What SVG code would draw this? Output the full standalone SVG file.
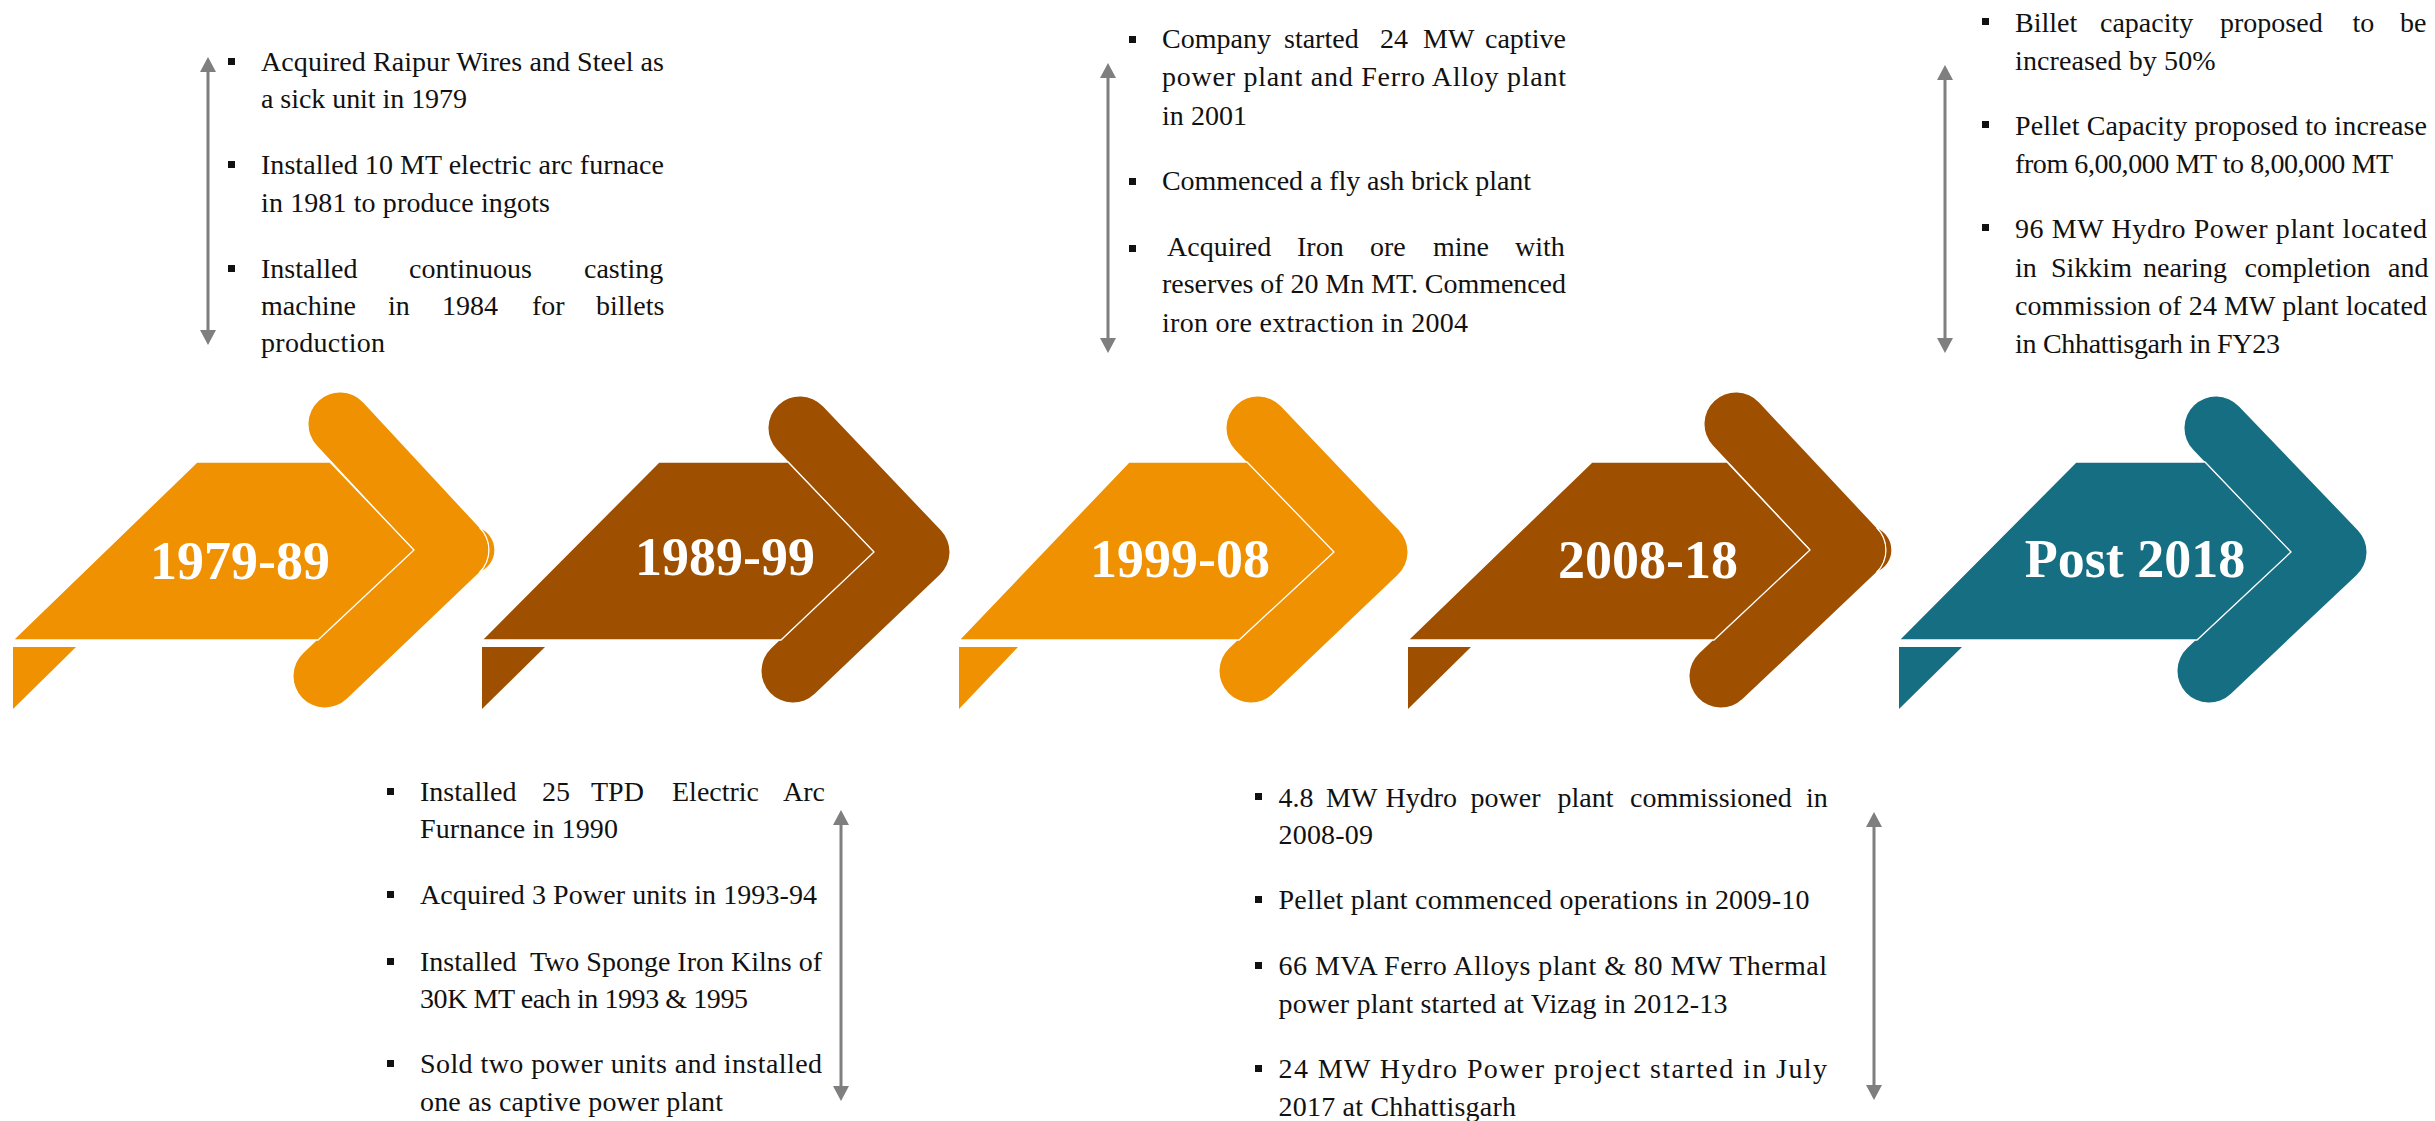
<svg xmlns="http://www.w3.org/2000/svg" width="2435" height="1121" viewBox="0 0 2435 1121">
<style>
.t{font-family:"Liberation Serif","Times New Roman",serif;font-size:28px;fill:#111}
.lbl{font-family:"Liberation Serif","Times New Roman",serif;font-weight:bold;font-size:54px;fill:#fff;text-anchor:middle}
.chev{fill:none;stroke-width:63;stroke-linecap:round;stroke-linejoin:round}
.body{stroke:#fff;stroke-width:1.3}
.cres{stroke:#fff;stroke-width:1.2}
.or .chev{stroke:#EF9100}.or .fill{fill:#EF9100}
.br .chev{stroke:#9E5000}.br .fill{fill:#9E5000}
.te .chev{stroke:#166E82}.te .fill{fill:#166E82}
.bul{fill:#111}
.conn line{stroke:#7f7f7f;stroke-width:3}
</style>
<defs>
<marker id="ah" markerUnits="userSpaceOnUse" markerWidth="16" markerHeight="16" viewBox="0 0 16 16" refX="7" refY="8" orient="auto-start-reverse">
<path d="M0,0 L15,8 L0,16 z" fill="#7f7f7f"/>
</marker>
</defs>

<g id="era-1979-89" class="or">
<path class="chev" d="M340,424 L457,550 L325,676"/>
<path class="fill cres" d="M479.5,527.5 A31.5,31.5 0 0 1 479.5,572.5 A24.1,24.1 0 0 0 479.5,527.5 z"/>
<polygon class="fill body" points="197,462 330,462 414,550 318,640 13,640"/>
<polygon class="fill" points="13,647 76,647 13,709"/>
<text class="lbl" x="240" y="579">1979-89</text>
</g>

<g id="era-1989-99" class="br">
<path class="chev" d="M800,428 L918,552 L793,671"/>
<polygon class="fill body" points="659,462 788,462 874,552 781,640 482,640"/>
<polygon class="fill" points="482,647 545,647 482,709"/>
<text class="lbl" x="725" y="575">1989-99</text>
</g>

<g id="era-1999-08" class="or">
<path class="chev" d="M1258,428 L1376,552 L1251,671"/>
<polygon class="fill body" points="1129,462 1247,462 1334,552 1239,640 959,640"/>
<polygon class="fill" points="959,647 1018,647 959,709"/>
<text class="lbl" x="1180" y="577">1999-08</text>
</g>

<g id="era-2008-18" class="br">
<path class="chev" d="M1736,424 L1854,550 L1721,676"/>
<path class="fill cres" d="M1876.5,527.5 A31.5,31.5 0 0 1 1876.5,572.5 A24.1,24.1 0 0 0 1876.5,527.5 z"/>
<polygon class="fill body" points="1592,462 1727,462 1810,550 1714,640 1408,640"/>
<polygon class="fill" points="1408,647 1471,647 1408,709"/>
<text class="lbl" x="1648" y="578">2008-18</text>
</g>

<g id="era-post-2018" class="te">
<path class="chev" d="M2216,428 L2335,552 L2209,671"/>
<polygon class="fill body" points="2076,462 2205,462 2291,552 2197,640 1899,640"/>
<polygon class="fill" points="1899,647 1962,647 1899,709"/>
<text class="lbl" x="2135" y="577">Post 2018</text>
</g>

<g id="notes-1979-89">
<rect class="bul" x="228" y="58" width="7" height="7"/>
<rect class="bul" x="228" y="161" width="7" height="7"/>
<rect class="bul" x="228" y="265" width="7" height="7"/>
<text class="t" x="261" y="71" textLength="403">Acquired Raipur Wires and Steel as</text>
<text class="t" x="261" y="108" textLength="206">a sick unit in 1979</text>
<text class="t" x="261" y="174" textLength="403">Installed 10 MT electric arc furnace</text>
<text class="t" x="261" y="212" textLength="289">in 1981 to produce ingots</text>
<text class="t" y="278"><tspan x="261">Installed</tspan> <tspan x="409">continuous</tspan> <tspan x="584">casting</tspan></text>
<text class="t" y="315"><tspan x="261">machine</tspan> <tspan x="388">in</tspan> <tspan x="442">1984</tspan> <tspan x="532">for</tspan> <tspan x="596">billets</tspan></text>
<text class="t" x="261" y="352" textLength="124">production</text>
</g>

<g id="notes-1989-99">
<rect class="bul" x="387" y="788" width="7" height="7"/>
<rect class="bul" x="387" y="891" width="7" height="7"/>
<rect class="bul" x="387" y="958" width="7" height="7"/>
<rect class="bul" x="387" y="1060" width="7" height="7"/>
<text class="t" y="801"><tspan x="420">Installed</tspan> <tspan x="542">25</tspan> <tspan x="591">TPD</tspan> <tspan x="672">Electric</tspan> <tspan x="783">Arc</tspan></text>
<text class="t" x="420" y="838" textLength="198">Furnance in 1990</text>
<text class="t" x="420" y="904" textLength="397">Acquired 3 Power units in 1993-94</text>
<text class="t" x="420" y="971" textLength="402" style="white-space:pre">Installed  Two Sponge Iron Kilns of</text>
<text class="t" x="420" y="1008" textLength="328">30K MT each in 1993 &amp; 1995</text>
<text class="t" x="420" y="1073" textLength="402">Sold two power units and installed</text>
<text class="t" x="420" y="1111" textLength="303">one as captive power plant</text>
</g>

<g id="notes-1999-08">
<rect class="bul" x="1129" y="36" width="7" height="7"/>
<rect class="bul" x="1129" y="178" width="7" height="7"/>
<rect class="bul" x="1129" y="245" width="7" height="7"/>
<text class="t" y="48"><tspan x="1162">Company</tspan> <tspan x="1284">started</tspan> <tspan x="1380">24</tspan> <tspan x="1423">MW</tspan> <tspan x="1485">captive</tspan></text>
<text class="t" x="1162" y="86" textLength="404">power plant and Ferro Alloy plant</text>
<text class="t" x="1162" y="125" textLength="85">in 2001</text>
<text class="t" x="1162" y="190" textLength="369">Commenced a fly ash brick plant</text>
<text class="t" y="256"><tspan x="1167">Acquired</tspan> <tspan x="1297">Iron</tspan> <tspan x="1370">ore</tspan> <tspan x="1433">mine</tspan> <tspan x="1515">with</tspan></text>
<text class="t" x="1162" y="293" textLength="404">reserves of 20 Mn MT. Commenced</text>
<text class="t" x="1162" y="332" textLength="306">iron ore extraction in 2004</text>
</g>

<g id="notes-2008-18">
<rect class="bul" x="1255" y="793" width="7" height="7"/>
<rect class="bul" x="1255" y="896" width="7" height="7"/>
<rect class="bul" x="1255" y="962" width="7" height="7"/>
<rect class="bul" x="1255" y="1065" width="7" height="7"/>
<text class="t" y="807"><tspan x="1278.5">4.8</tspan> <tspan x="1326">MW</tspan> <tspan x="1385.5">Hydro</tspan> <tspan x="1470.5">power</tspan> <tspan x="1557.5">plant</tspan> <tspan x="1630">commissioned</tspan> <tspan x="1806">in</tspan></text>
<text class="t" x="1278.5" y="844" textLength="94.5">2008-09</text>
<text class="t" x="1278.5" y="909" textLength="531">Pellet plant commenced operations in 2009-10</text>
<text class="t" x="1278.5" y="975" textLength="548.5">66 MVA Ferro Alloys plant &amp; 80 MW Thermal</text>
<text class="t" x="1278.5" y="1013" textLength="449">power plant started at Vizag in 2012-13</text>
<text class="t" x="1278.5" y="1078" textLength="548.5">24 MW Hydro Power project started in July</text>
<text class="t" x="1278.5" y="1116" textLength="237.5">2017 at Chhattisgarh</text>
</g>

<g id="notes-post-2018">
<rect class="bul" x="1982" y="18" width="7" height="7"/>
<rect class="bul" x="1982" y="121" width="7" height="7"/>
<rect class="bul" x="1982" y="224" width="7" height="7"/>
<text class="t" y="32"><tspan x="2015">Billet</tspan> <tspan x="2100">capacity</tspan> <tspan x="2220">proposed</tspan> <tspan x="2352.6">to</tspan> <tspan x="2400">be</tspan></text>
<text class="t" x="2015" y="70" textLength="200.6">increased by 50%</text>
<text class="t" x="2015" y="135" textLength="412">Pellet Capacity proposed to increase</text>
<text class="t" x="2015" y="173" textLength="378">from 6,00,000 MT to 8,00,000 MT</text>
<text class="t" x="2015" y="238" textLength="412">96 MW Hydro Power plant located</text>
<text class="t" y="277"><tspan x="2015">in</tspan> <tspan x="2051">Sikkim</tspan> <tspan x="2143">nearing</tspan> <tspan x="2244.6">completion</tspan> <tspan x="2388">and</tspan></text>
<text class="t" x="2015" y="315" textLength="412">commission of 24 MW plant located</text>
<text class="t" x="2015" y="353" textLength="265">in Chhattisgarh in FY23</text>
</g>

<g id="connectors" class="conn">
<line x1="208" y1="65" x2="208" y2="337" marker-start="url(#ah)" marker-end="url(#ah)"/>
<line x1="841" y1="818" x2="841" y2="1093" marker-start="url(#ah)" marker-end="url(#ah)"/>
<line x1="1108" y1="71" x2="1108" y2="345" marker-start="url(#ah)" marker-end="url(#ah)"/>
<line x1="1874" y1="820" x2="1874" y2="1092" marker-start="url(#ah)" marker-end="url(#ah)"/>
<line x1="1945" y1="73" x2="1945" y2="345" marker-start="url(#ah)" marker-end="url(#ah)"/>
</g>
</svg>
